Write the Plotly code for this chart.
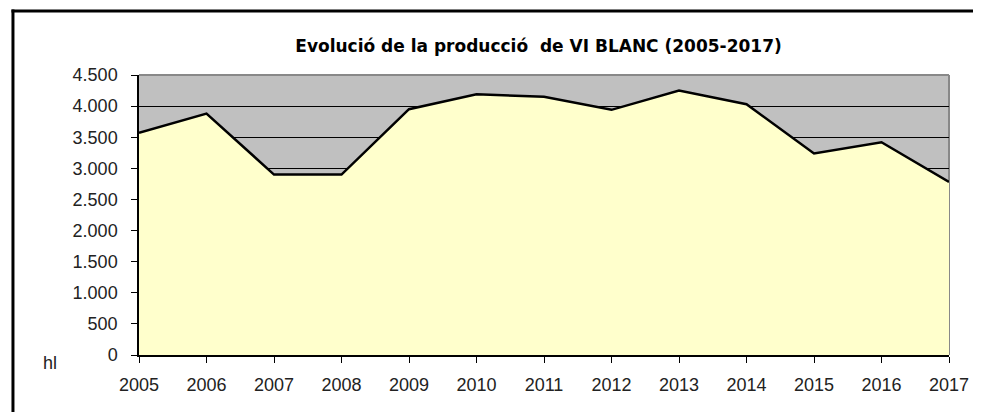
import plotly.graph_objects as go

years = [2005, 2006, 2007, 2008, 2009, 2010, 2011, 2012, 2013, 2014, 2015, 2016, 2017]
production_hl = [3570, 3880, 2900, 2900, 3950, 4190, 4150, 3940, 4250, 4030, 3240, 3420, 2780]
y_tick_vals = [0, 500, 1000, 1500, 2000, 2500, 3000, 3500, 4000, 4500]
y_tick_text = ["0", "500", "1.000", "1.500", "2.000", "2.500", "3.000", "3.500", "4.000", "4.500"]

# page body has an 8px margin; figure coordinates are page coordinates minus 8
OFF = 8
W, H = 981 - OFF, 412 - OFF
ML, MR, MT, MB = 139 - OFF, 981 - 952, 75 - OFF, 412 - 355
PW, PH = W - ML - MR, H - MT - MB

def px_x(p):
    return (p - OFF - ML) / PW

def px_y(p):
    return (H - MB - (p - OFF)) / PH

font = "Liberation Sans, Arial, sans-serif"
tfont = "DejaVu Sans, Liberation Sans, sans-serif"

fig = go.Figure()
fig.add_trace(go.Scatter(
    x=years, y=production_hl, mode="lines", fill="tozeroy",
    fillcolor="#FFFFCC", line=dict(color="#000000", width=2.5),
    hoverinfo="x+y", showlegend=False,
))

fig.update_layout(
    width=W, height=H,
    margin=dict(l=ML, r=MR, t=MT, b=MB, pad=0),
    paper_bgcolor="#FFFFFF", plot_bgcolor="#C0C0C0",
    font=dict(family=font, size=18, color="#222222"),
    title=dict(text="Evolució de la producció  de VI BLANC (2005-2017)",
               x=px_x(540), xref="paper", xanchor="center",
               y=1 - (46 - OFF) / H, yanchor="middle",
               font=dict(family=tfont, size=17, color="#000000", weight="bold")),
    xaxis=dict(range=[2005, 2017], tickvals=years, ticktext=[str(y) for y in years],
               showgrid=False, zeroline=False, showline=True, linecolor="#000000", linewidth=2,
               ticks="outside", ticklen=6, tickcolor="#000000", tickwidth=1,
               ticklabelstandoff=6,
               tickfont=dict(family=font, size=18, color="#222222"), fixedrange=True),
    yaxis=dict(range=[0, 4500], tickvals=y_tick_vals, ticktext=y_tick_text,
               showgrid=True, gridcolor="#000000", gridwidth=1, zeroline=False,
               showline=True, linecolor="#000000", linewidth=1.5,
               ticks="outside", ticklen=6, tickcolor="#000000", tickwidth=1,
               ticklabelstandoff=10,
               tickfont=dict(family=font, size=18, color="#222222"), fixedrange=True),
    shapes=[
        dict(type="line", xref="paper", yref="paper", x0=0, x1=1, y0=1, y1=1,
             line=dict(color="#888888", width=2)),
        dict(type="line", xref="paper", yref="paper", x0=1, x1=1, y0=0, y1=1,
             line=dict(color="#888888", width=2), layer="below"),
        dict(type="line", xref="paper", yref="paper", x0=px_x(11), x1=px_x(995),
             y0=px_y(11), y1=px_y(11), line=dict(color="#000000", width=3)),
        dict(type="line", xref="paper", yref="paper", x0=px_x(12.5), x1=px_x(12.5),
             y0=px_y(9.5), y1=px_y(430), line=dict(color="#000000", width=3)),
    ],
    annotations=[
        dict(text="hl", xref="paper", yref="paper", x=px_x(50), y=px_y(363),
             xanchor="center", yanchor="middle", showarrow=False,
             font=dict(family=font, size=18, color="#222222")),
    ],
)

fig.write_html("out.html")
